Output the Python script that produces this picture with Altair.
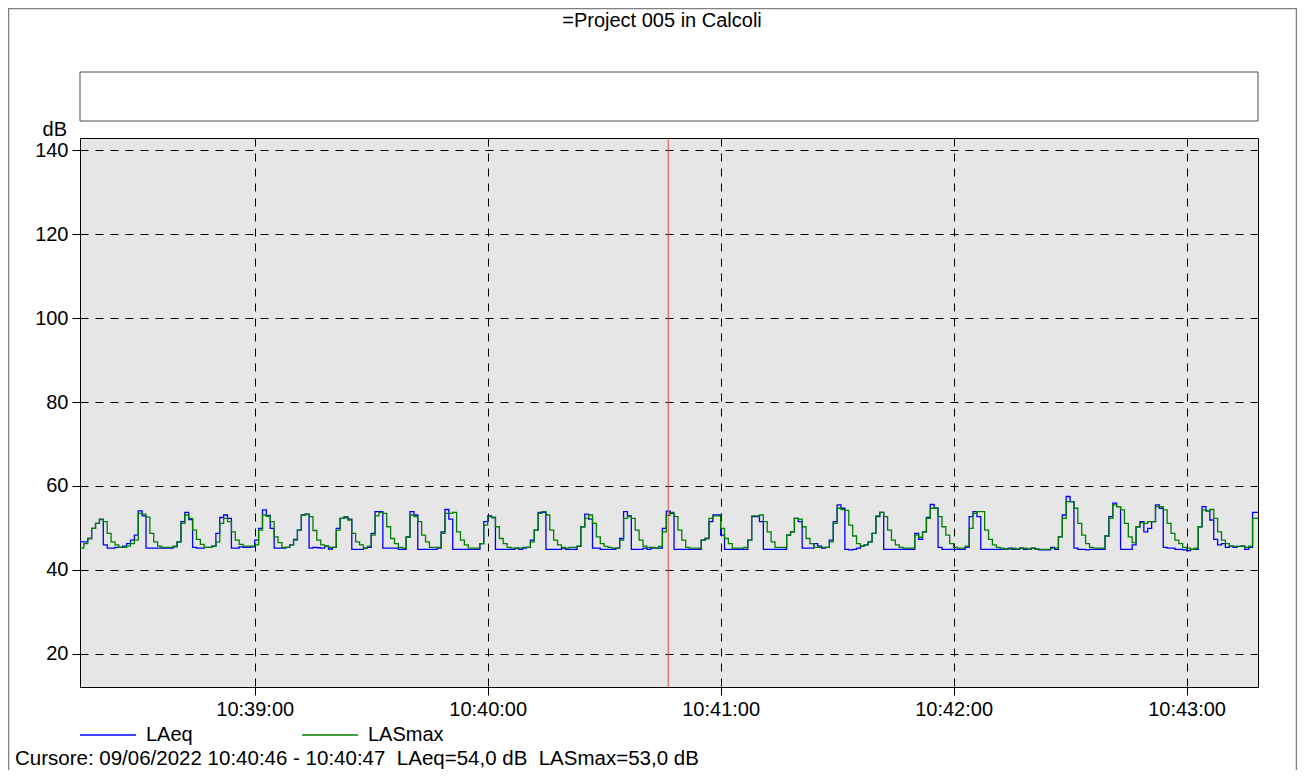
import altair as alt
import pandas as pd

# ---- data (1 s steps starting 10:38:15) ----
start = pd.Timestamp("2022-06-09 10:38:15")
end_time = "2022-06-09T10:43:18.400"
cursor_time = "2022-06-09T10:40:46.500"

laeq = [
    46.7, 46.7, 47.5, 49.9, 51.1, 52.1, 46.0, 45.2, 45.2, 45.4,
    45.4, 45.7, 46.3, 47.1, 48.3, 54.1, 52.9, 45.2, 45.2, 45.2,
    45.2, 45.2, 45.2, 45.2, 45.5, 46.7, 51.5, 53.7, 52.0, 45.4,
    45.2, 45.2, 45.4, 45.4, 45.7, 48.7, 52.5, 53.1, 52.3, 45.2,
    45.2, 45.5, 45.4, 45.4, 45.5, 47.1, 49.9, 54.3, 53.0, 49.9,
    45.2, 45.2, 45.2, 45.4, 46.0, 47.3, 49.5, 53.1, 53.3, 45.2,
    45.4, 45.3, 45.2, 45.7, 45.0, 45.4, 49.9, 52.3, 52.5, 52.1,
    44.9, 44.9, 44.9, 45.2, 45.4, 48.7, 53.9, 53.9, 45.2, 45.2,
    45.2, 45.2, 44.9, 44.9, 47.9, 53.9, 53.1, 44.9, 44.9, 44.9,
    44.9, 44.9, 45.2, 49.1, 54.4, 52.1, 44.9, 44.9, 44.9, 44.9,
    44.9, 44.9, 44.9, 46.3, 51.5, 52.9, 52.5, 44.9, 44.9, 44.9,
    44.9, 44.9, 45.2, 44.9, 45.2, 45.4, 47.1, 49.5, 53.7, 53.7,
    44.9, 44.9, 44.9, 44.9, 45.2, 44.9, 44.9, 44.9, 45.6, 50.3,
    53.3, 52.1, 45.2, 45.2, 44.9, 44.9, 44.9, 44.9, 45.2, 47.5,
    53.9, 52.9, 44.9, 44.9, 44.9, 45.2, 44.9, 45.2, 45.2, 45.2,
    49.9, 54.0, 53.5, 44.9, 44.9, 44.9, 44.9, 44.9, 44.9, 44.9,
    47.1, 47.5, 51.5, 53.1, 53.1, 48.3, 44.9, 44.9, 44.9, 44.9,
    44.9, 44.9, 47.1, 52.7, 52.7, 51.5, 44.9, 44.9, 44.9, 44.9,
    44.9, 44.9, 48.3, 49.1, 52.3, 51.5, 45.2, 45.2, 45.2, 46.3,
    45.7, 45.2, 45.4, 47.1, 51.5, 55.5, 54.7, 44.9, 44.8, 44.9,
    45.2, 45.7, 46.0, 46.7, 48.7, 52.7, 53.7, 44.9, 44.9, 44.9,
    44.9, 44.9, 44.9, 44.9, 44.9, 48.7, 47.3, 49.1, 52.5, 55.6,
    54.7, 45.4, 44.9, 44.9, 44.9, 44.9, 44.9, 44.9, 45.4, 52.7,
    53.9, 52.7, 44.9, 44.9, 44.9, 44.9, 44.9, 44.9, 44.9, 45.2,
    44.9, 44.9, 45.2, 44.9, 44.9, 45.2, 44.9, 44.8, 44.8, 44.8,
    45.4, 44.9, 47.9, 53.1, 57.5, 56.3, 45.2, 44.9, 44.9, 44.8,
    44.9, 44.9, 44.9, 44.9, 48.1, 52.7, 55.9, 55.1, 44.9, 44.9,
    44.9, 46.0, 50.3, 51.5, 49.1, 49.9, 51.5, 55.5, 54.7, 45.4,
    45.2, 45.2, 44.9, 44.9, 44.8, 44.6, 44.9, 44.9, 50.3, 55.1,
    54.1, 51.9, 47.3, 46.0, 46.3, 45.4, 45.7, 45.4, 45.6, 45.7,
    44.9, 45.4, 53.7,
]

lasmax = [
    45.2, 46.3, 47.5, 49.9, 51.1, 52.0, 51.5, 48.7, 46.7, 46.0,
    45.4, 45.4, 45.7, 46.3, 47.1, 53.5, 53.3, 52.6, 48.7, 46.7,
    45.7, 45.4, 45.4, 45.4, 45.7, 46.7, 51.1, 53.1, 52.3, 49.5,
    47.3, 46.1, 45.4, 45.4, 45.7, 46.7, 51.1, 52.3, 51.5, 49.1,
    47.1, 46.1, 45.7, 45.7, 45.7, 46.0, 49.5, 53.1, 52.8, 51.5,
    47.9, 46.5, 45.4, 45.4, 46.0, 47.1, 49.5, 53.1, 53.3, 52.7,
    49.4, 47.1, 46.0, 45.7, 45.4, 45.4, 49.5, 52.3, 52.7, 51.9,
    48.7, 46.7, 46.0, 45.2, 45.6, 48.3, 52.9, 53.7, 53.5, 50.3,
    47.5, 46.3, 45.4, 45.2, 47.8, 53.1, 52.7, 51.5, 48.3, 46.7,
    45.4, 45.4, 45.4, 48.7, 53.5, 53.5, 53.7, 49.1, 47.1, 46.0,
    45.2, 45.2, 45.2, 46.3, 50.7, 52.7, 52.5, 50.3, 47.5, 46.3,
    45.4, 45.2, 45.2, 45.2, 45.4, 45.4, 46.7, 49.5, 53.5, 53.9,
    53.1, 49.5, 47.1, 46.0, 45.4, 45.2, 45.4, 45.4, 45.7, 50.3,
    52.3, 53.1, 51.1, 47.9, 46.3, 45.6, 45.4, 45.2, 45.2, 47.1,
    52.3, 52.7, 52.3, 49.5, 47.1, 45.7, 45.4, 45.4, 45.2, 45.6,
    49.1, 53.0, 53.7, 52.7, 49.5, 47.1, 45.4, 45.2, 45.2, 45.2,
    47.1, 47.5, 52.3, 52.9, 52.9, 49.9, 47.5, 46.3, 45.2, 45.2,
    45.2, 45.4, 47.1, 52.9, 52.9, 53.1, 51.5, 49.1, 46.7, 45.4,
    45.4, 45.4, 48.3, 49.1, 52.3, 52.1, 50.3, 47.5, 46.3, 45.4,
    45.4, 45.4, 45.4, 46.7, 51.1, 54.7, 54.4, 54.2, 50.7, 48.1,
    46.3, 45.7, 46.0, 46.7, 48.7, 52.9, 53.7, 52.7, 49.5, 47.1,
    46.0, 45.4, 45.2, 45.2, 45.2, 48.3, 47.8, 49.1, 52.3, 54.7,
    54.7, 52.7, 50.3, 48.3, 46.3, 45.4, 45.2, 45.2, 45.7, 49.9,
    53.5, 53.9, 53.9, 49.5, 47.3, 46.0, 45.4, 45.2, 45.0, 45.0,
    45.2, 45.0, 45.2, 45.2, 45.0, 45.2, 45.0, 44.9, 44.9, 44.9,
    45.2, 45.2, 47.9, 52.3, 56.3, 56.3, 54.7, 51.1, 48.3, 46.3,
    45.4, 45.2, 45.2, 45.2, 48.1, 52.3, 55.5, 55.1, 54.3, 51.1,
    47.9, 46.5, 50.3, 51.3, 51.1, 51.5, 51.5, 55.1, 55.1, 54.3,
    51.1, 48.7, 47.1, 46.3, 45.4, 45.2, 44.9, 45.2, 50.3, 54.3,
    54.1, 54.4, 52.3, 49.1, 47.1, 46.3, 45.7, 45.6, 45.6, 45.7,
    45.4, 45.7, 52.3,
]

series_names = ["LAeq", "LASmax"]
series_colors = ["#0000FF", "#008000"]
y_ticks = [20, 40, 60, 80, 100, 120, 140]
x_tick_minutes = [39, 40, 41, 42, 43]
title_text = "=Project 005 in Calcoli"
NB = "\u00a0"
cursor_text = ("Cursore: 09/06/2022 10:40:46 - 10:40:47 " + NB + "LAeq=54,0 dB " + NB
               + "LASmax=53,0 dB")

rows = []
for name, vals in zip(series_names, [laeq, lasmax]):
    for i, v in enumerate(vals):
        t = start + pd.Timedelta(seconds=i)
        rows.append({"time": t.strftime("%Y-%m-%dT%H:%M:%S"), "value": v, "series": name})
    rows.append({"time": end_time, "value": vals[-1], "series": name})
df = pd.DataFrame(rows)

FONT = "Liberation Sans"
W, H = 1178, 549


def dt(h, m, s=0, ms=0):
    return alt.DateTime(year=2022, month=6, date=9, hours=h, minutes=m, seconds=s, milliseconds=ms)


x_scale = alt.Scale(domain=[dt(10, 38, 15), dt(10, 43, 18, 400)])
y_scale = alt.Scale(domain=[12.14, 142.86], nice=False, zero=False)

lines = alt.Chart(df).mark_line(interpolate="step-after", strokeWidth=1.3).encode(
    x=alt.X("time:T", scale=x_scale,
            axis=alt.Axis(title=None, values=[dt(10, m) for m in x_tick_minutes],
                          format="%H:%M:%S", grid=True, labelPadding=4, tickSize=8)),
    y=alt.Y("value:Q", scale=y_scale,
            axis=alt.Axis(title=None, values=y_ticks, grid=True, labelPadding=4, tickSize=8)),
    color=alt.Color("series:N", scale=alt.Scale(domain=series_names, range=series_colors), legend=None),
)

one = alt.Data(values=[{"k": 1}])

frame = alt.Chart(one).mark_rect(filled=False, stroke="#808080", strokeWidth=1.5).encode(
    x=alt.value(-71.5), x2=alt.value(1216.5), y=alt.value(-129.5), y2=alt.value(720)
)
topbox = alt.Chart(one).mark_rect(fill="white", stroke="#4d4d4d", strokeWidth=1).encode(
    x=alt.value(0), x2=alt.value(W), y=alt.value(-66), y2=alt.value(-17)
)

cursor = alt.Chart(pd.DataFrame({"time": [cursor_time]})).mark_rule(
    color="#E04848", strokeWidth=1
).encode(x=alt.X("time:T", scale=x_scale))

title = alt.Chart(pd.DataFrame({"t": [title_text]})).mark_text(
    font=FONT, fontSize=20, align="center", baseline="alphabetic", color="black"
).encode(text="t:N", x=alt.value(582), y=alt.value(-111))

db_label = alt.Chart(pd.DataFrame({"t": ["dB"]})).mark_text(
    font=FONT, fontSize=20, align="right", baseline="alphabetic", color="black"
).encode(text="t:N", x=alt.value(-13), y=alt.value(-2))

leg_blue = alt.Chart(one).mark_rule(color=series_colors[0], strokeWidth=1.3).encode(
    x=alt.value(0), x2=alt.value(56), y=alt.value(597)
)
leg_green = alt.Chart(one).mark_rule(color=series_colors[1], strokeWidth=1.3).encode(
    x=alt.value(222), x2=alt.value(278), y=alt.value(597)
)
leg_t1 = alt.Chart(pd.DataFrame({"t": [series_names[0]]})).mark_text(
    font=FONT, fontSize=20, align="left", baseline="middle", color="black"
).encode(text="t:N", x=alt.value(66), y=alt.value(597))
leg_t2 = alt.Chart(pd.DataFrame({"t": [series_names[1]]})).mark_text(
    font=FONT, fontSize=20, align="left", baseline="middle", color="black"
).encode(text="t:N", x=alt.value(288), y=alt.value(597))

bottom = alt.Chart(pd.DataFrame({"t": [cursor_text]})).mark_text(
    font=FONT, fontSize=20.5, align="left", baseline="alphabetic", color="black"
).encode(text="t:N", x=alt.value(-65), y=alt.value(627))

chart = alt.layer(
    frame, topbox, lines, cursor, title, db_label, leg_blue, leg_green, leg_t1, leg_t2, bottom
).properties(
    width=W, height=H,
    autosize=alt.AutoSizeParams(type="none"),
    padding={"left": 72, "top": 130, "right": 39, "bottom": 83},
    background="white",
).configure_view(
    fill="#E6E6E6", stroke="black", strokeWidth=1
).configure_axis(
    domainColor="black", domainWidth=1, tickColor="black", tickWidth=1,
    labelColor="black", labelFont=FONT, labelFontSize=20,
    gridColor="black", gridDash=[8, 7], gridWidth=1, gridOpacity=1,
)

chart.save("out.html", embed_options={"renderer": "svg", "actions": False})
